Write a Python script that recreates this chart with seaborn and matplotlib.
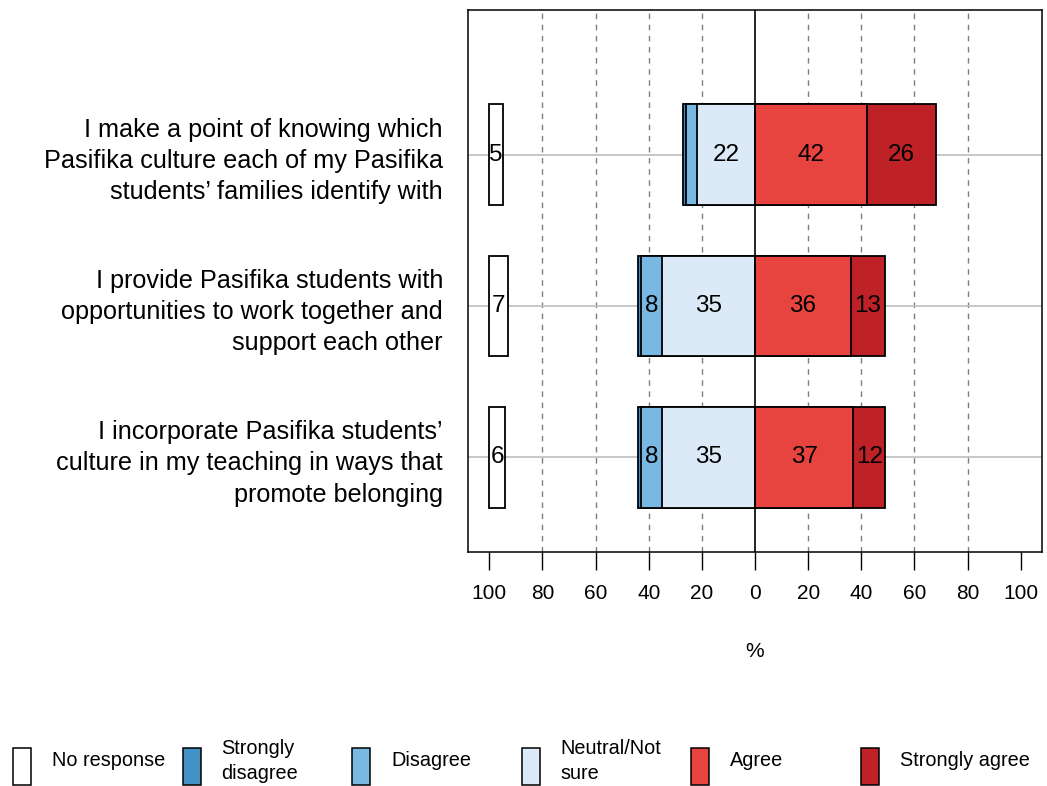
import numpy as np
import pandas as pd
import matplotlib
matplotlib.use("Agg")
import matplotlib.pyplot as plt
from matplotlib.patches import Rectangle
import seaborn as sns

# --- Data ---
statements = [
    "I make a point of knowing which\nPasifika culture each of my Pasifika\nstudents\u2019 families identify with",
    "I provide Pasifika students with\nopportunities to work together and\nsupport each other",
    "I incorporate Pasifika students\u2019\nculture in my teaching in ways that\npromote belonging",
]
no_response = [5, 7, 6]
strongly_disagree = [1, 1, 1]
disagree = [4, 8, 8]
neutral = [22, 35, 35]
agree = [42, 36, 37]
strongly_agree = [26, 13, 12]

legend_labels = ["No response", "Strongly\ndisagree", "Disagree",
                 "Neutral/Not\nsure", "Agree", "Strongly agree"]
colors = ["#FFFFFF", "#4292C6", "#7AB8E4", "#DCEAF8", "#E8443F", "#BE2227"]
xticks = np.arange(-100, 101, 20)

# --- Style ---
sns.set_theme(style="white")
plt.rcParams["font.family"] = ["Liberation Sans", "DejaVu Sans"]
plt.rcParams["text.color"] = "black"
plt.rcParams["xtick.color"] = "black"
plt.rcParams["ytick.color"] = "black"
plt.rcParams["axes.labelcolor"] = "black"

fig = plt.figure(figsize=(10.47, 7.86), dpi=100)
ax = fig.add_axes([468 / 1047, 1 - 552 / 786, 574 / 1047, 542 / 786])

# cumulative extents, drawn from the outermost layer inward
df = pd.DataFrame({
    "statement": statements,
    "sd": -(np.array(neutral) + np.array(disagree) + np.array(strongly_disagree)),
    "d": -(np.array(neutral) + np.array(disagree)),
    "n": -np.array(neutral),
    "sa": np.array(agree) + np.array(strongly_agree),
    "a": np.array(agree),
})

bar_h = 0.667
ypos = np.arange(len(statements))

# background guides
for v in xticks:
    if v not in (-100, 0, 100):
        ax.axvline(v, color="#7F7F7F", lw=1.0, ls=(0, (4, 4)), zorder=0.5)
for y in ypos:
    ax.axhline(y, color="#BEBEBE", lw=1.2, zorder=0.5)

for col, c in [("sd", colors[1]), ("d", colors[2]), ("n", colors[3]),
               ("sa", colors[5]), ("a", colors[4])]:
    sns.barplot(data=df, x=col, y="statement", order=statements, orient="h",
                color=c, saturation=1, edgecolor="black", linewidth=1.3,
                width=bar_h, errorbar=None, ax=ax)

ax.barh(ypos, no_response, left=-100, height=bar_h, color=colors[0],
        edgecolor="black", linewidth=1.3)

ax.axvline(0, color="black", lw=1.2, zorder=3)

# segment labels
lab_fs = 17.5
for i in ypos:
    segs = [
        (-100 + no_response[i] / 2, no_response[i]),
        (-(neutral[i] + disagree[i] + strongly_disagree[i] / 2), strongly_disagree[i]),
        (-(neutral[i] + disagree[i] / 2), disagree[i]),
        (-neutral[i] / 2, neutral[i]),
        (agree[i] / 2, agree[i]),
        (agree[i] + strongly_agree[i] / 2, strongly_agree[i]),
    ]
    for xc, val in segs:
        if val >= 5:
            ax.text(xc, i, str(val), ha="center", va="center",
                    fontsize=lab_fs, color="black", zorder=4)

ax.set_xlim(-108, 108)
ax.set_ylim(2.627, -0.958)
ax.set_xticks(xticks)
ax.set_xticklabels([str(abs(v)) for v in xticks])
ax.set_yticks(ypos)
ax.set_yticklabels(statements, fontsize=18.2, linespacing=1.38, ha="right",
                   color="black")
ax.tick_params(axis="x", length=13, width=1.0, pad=10, labelsize=15,
               direction="out", bottom=True, color="black", labelcolor="black")
ax.tick_params(axis="y", length=0, pad=18)
ax.set_ylabel("")
ax.set_xlabel("%", fontsize=15, labelpad=28, color="black")
for s in ax.spines.values():
    s.set_color("black")
    s.set_linewidth(1.1)

# --- Legend (equal-width columns along the bottom) ---
lax = fig.add_axes([0, 0, 1, 1], zorder=-1)
lax.set_xlim(0, 1047)
lax.set_ylim(786, 0)
lax.axis("off")
col_w = 169.6
for i, (lab, c) in enumerate(zip(legend_labels, colors)):
    x0 = 13 + col_w * i
    lax.add_patch(Rectangle((x0, 748), 18, 37, facecolor=c,
                            edgecolor="black", linewidth=1.1))
    lax.text(x0 + 39, 761, lab, ha="left", va="center", fontsize=14.3,
             linespacing=1.35, color="black")

fig.savefig("out.png", dpi=100)
